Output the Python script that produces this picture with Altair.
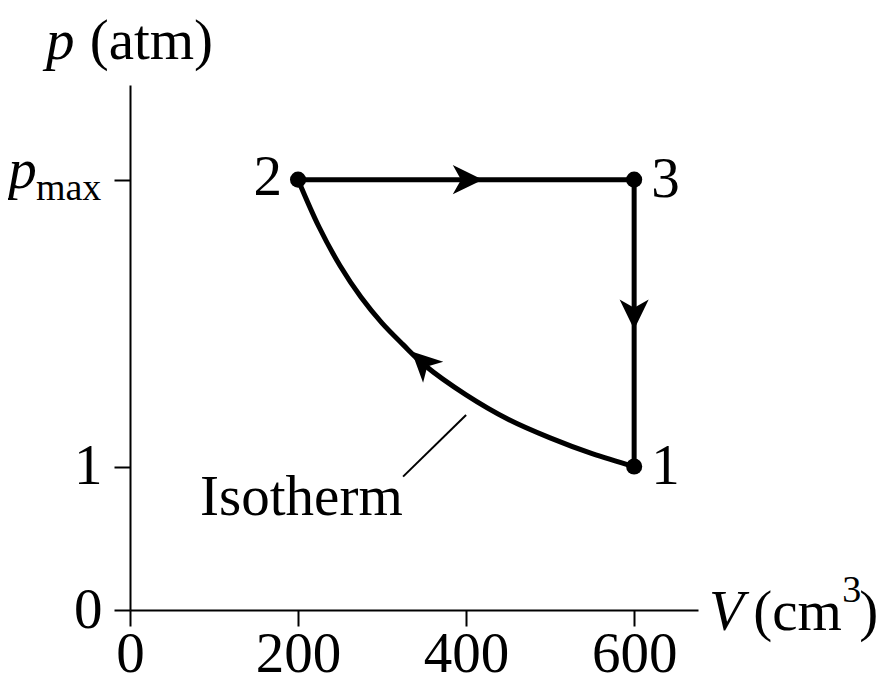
import altair as alt
import pandas as pd

# Isotherm 1 -> 2
iso_V = [600, 550, 500, 450, 400, 350, 325, 300, 275, 250, 225, 200]
iso_p = [1.0, 1.09, 1.2, 1.33, 1.5, 1.71, 1.85, 2.0, 2.18, 2.4, 2.67, 3.0]
# Isobar 2 -> 3 and isochore 3 -> 1
seg_V = [200, 600, 600]
seg_p = [3.0, 3.0, 1.0]

state_V = [600, 200, 600]
state_p = [1.0, 3.0, 3.0]
state_lbl = ["1", "2", "3"]

arrow_V = [402, 600, 348]
arrow_p = [3.0, 2.06, 1.73]
arrow_ang = [90, 180, 314]

x_ticks = [0, 200, 400, 600]
y_ticks = [0, 1, 3]

FONT = "Liberation Serif"
FS = 57

iso_df = pd.DataFrame({"V": iso_V, "p": iso_p, "o": list(range(len(iso_V)))})
seg_df = pd.DataFrame({"V": seg_V, "p": seg_p, "o": list(range(len(seg_V)))})
state_df = pd.DataFrame({"V": state_V, "p": state_p, "lbl": state_lbl})
arrow_df = pd.DataFrame({"V": arrow_V, "p": arrow_p, "ang": arrow_ang})

xs = alt.Scale(domain=[0, 676], nice=False, zero=False)
ys = alt.Scale(domain=[0, 3.66], nice=False, zero=False)

base_x = alt.X("V:Q", scale=xs, axis=alt.Axis(
    values=x_ticks, title=None, grid=False, domainColor="black", domainWidth=2,
    tickColor="black", tickWidth=2, tickSize=16, labelFont=FONT, labelFontSize=FS,
    labelColor="black", labelPadding=0, labelFlush=False, format="d"))
base_y = alt.Y("p:Q", scale=ys, axis=alt.Axis(
    values=y_ticks, title=None, grid=False, domainColor="black", domainWidth=2,
    tickColor="black", tickWidth=2, tickSize=16, labelFont=FONT, labelFontSize=FS,
    labelColor="black", labelPadding=12, labelFlush=False, format="d",
    labelExpr="datum.value == 3 ? '' : datum.label"))

iso_line = alt.Chart(iso_df).mark_line(color="black", strokeWidth=5, interpolate="catmull-rom").encode(
    x=base_x, y=base_y, order="o:Q")
seg_line = alt.Chart(seg_df).mark_line(color="black", strokeWidth=5, strokeJoin="round").encode(
    x="V:Q", y="p:Q", order="o:Q")

pts = alt.Chart(state_df).mark_point(filled=True, color="black", size=260, opacity=1).encode(
    x="V:Q", y="p:Q")

arrow_shape = "M0,-1L0.97,1L0,0.45L-0.97,1Z"
arrows = alt.Chart(arrow_df).mark_point(shape=arrow_shape, filled=True, color="black",
                                        size=900, opacity=1).encode(
    x="V:Q", y="p:Q", angle=alt.Angle("ang:Q", scale=None))

lbl_left = alt.Chart(state_df[state_df.lbl == "2"]).mark_text(
    font=FONT, fontSize=FS, align="right", baseline="middle", dx=-16, dy=-2, color="black").encode(
    x="V:Q", y="p:Q", text="lbl:N")
lbl_right = alt.Chart(state_df[state_df.lbl != "2"]).mark_text(
    font=FONT, fontSize=FS, align="left", baseline="middle", dx=17, dy=0, color="black").encode(
    x="V:Q", y="p:Q", text="lbl:N")

# Isotherm label and leader line
iso_lbl_df = pd.DataFrame({"V": [204], "p": [0.66], "t": ["Isotherm"]})
iso_lbl = alt.Chart(iso_lbl_df).mark_text(font=FONT, fontSize=FS, align="center",
                                          baseline="alphabetic", color="black").encode(
    x="V:Q", y="p:Q", text="t:N")
leader_df = pd.DataFrame({"V": [325], "p": [0.93], "V2": [400], "p2": [1.36]})
leader = alt.Chart(leader_df).mark_rule(color="black", strokeWidth=2).encode(
    x="V:Q", y="p:Q", x2="V2:Q", y2="p2:Q")

# Axis titles and p_max label as text marks
txt_V = [-83, -48, -111, -112, 689, 741.7, 847.6, 867.9]
txt_p = [3.96, 3.96, 3.06, 2.93, -0.02, -0.02, 0.13, -0.02]
txt_t = ["p", "(atm)", "p", "max", "V", "(cm", "3", ")"]
txt_style = ["italic", "normal", "italic", "normal", "italic", "normal", "normal", "normal"]
txt_size = [FS, FS, FS, 38, FS, FS, 38, FS]
txt_align = ["center", "left", "right", "left", "left", "left", "left", "left"]
txt_dy = [0, 0, 0, -1, 0, 0, 0, 0]

def tm(i):
    row = pd.DataFrame({"V": [txt_V[i]], "p": [txt_p[i]], "t": [txt_t[i]]})
    return alt.Chart(row).mark_text(font=FONT, fontSize=txt_size[i], fontStyle=txt_style[i],
                                    align=txt_align[i], baseline="middle",
                                    dy=txt_dy[i], color="black").encode(
        x="V:Q", y="p:Q", text="t:N")

texts = [tm(i) for i in range(len(txt_t))]

chart = alt.layer(iso_line, seg_line, leader, arrows, pts, lbl_left, lbl_right, iso_lbl, *texts).properties(
    width=568, height=525,
    autosize=alt.AutoSizeParams(type="none"),
    padding={"left": 122, "top": 77, "right": 180, "bottom": 74},
).configure_view(stroke=None)

chart.save("out.html", embed_options={"renderer": "svg", "actions": False})
